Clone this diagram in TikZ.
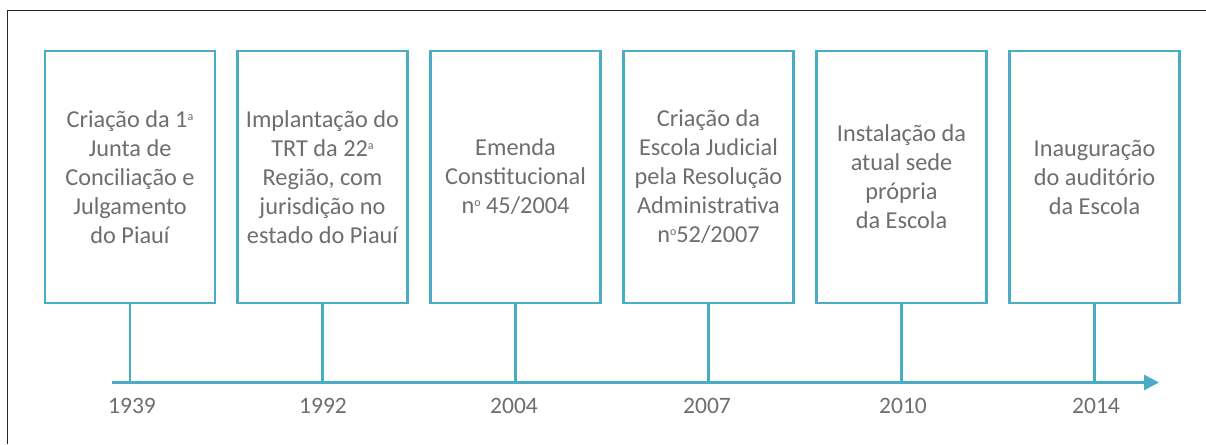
\documentclass[tikz,border=0pt]{standalone}
\usepackage{fontspec}
\setmainfont{Carlito}
\usetikzlibrary{arrows.meta}
\definecolor{tlblue}{HTML}{4BACC6}
\definecolor{tlgray}{HTML}{6E6E6E}
\newcommand\myord[1]{\raisebox{0.62ex}{\fontsize{12}{12}\selectfont #1}}
\begin{document}
\begin{tikzpicture}[x=1pt,y=-1pt,
  evbox/.style={draw=tlblue, line width=2.8pt, minimum width=170pt, minimum height=252pt,
    inner sep=0pt, align=center, text=tlgray,
    font=\fontsize{24.3}{29}\selectfont},
  stem/.style={draw=tlblue, line width=2.5pt},
  yearlbl/.style={text=tlgray, font=\fontsize{23.5}{29}\selectfont, inner sep=0pt}]
\useasboundingbox (0,0) rectangle (1206,444);
\fill[white] (0,0) rectangle (1206,444);
\draw[line width=1.6pt, black!85] (7.5,444) -- (7.5,10.5) -- (1206,10.5);

\node[evbox] (b1) at (130,177) {Criação da 1\myord{a}\\Junta de\\Conciliação e\\Julgamento\\do Piauí};
\node[evbox] (b2) at (322.5,177) {Implantação do\\TRT da 22\myord{a}\\Região, com\\jurisdição no\\estado do Piauí};
\node[evbox] (b3) at (515.5,177) {Emenda\\Constitucional\\n\myord{o} 45/2004};
\node[evbox] (b4) at (708.5,177) {Criação da\\Escola Judicial\\pela Resolução\\Administrativa\\n\myord{o}52/2007};
\node[evbox] (b5) at (901.5,177) {Instalação da\\atual sede\\própria\\da Escola};
\node[evbox] (b6) at (1094.5,177) {Inauguração\\do auditório\\da Escola};

\coordinate (ax0) at (112,382.5);
\coordinate (ax1) at (1159,382.5);
\draw[draw=tlblue, line width=2.8pt, -{Triangle[length=15pt,width=15pt]}] (ax0) -- (ax1);

\foreach \i in {1,...,6} {
  \coordinate (s\i) at (b\i.south |- ax0);
  \draw[stem] (b\i.south) -- (s\i);
}

\node[yearlbl] (y1) at (132,406) {1939};
\node[yearlbl] (y2) at (323,406) {1992};
\node[yearlbl] (y3) at (514,406) {2004};
\node[yearlbl] (y4) at (707,406) {2007};
\node[yearlbl] (y5) at (903,406) {2010};
\node[yearlbl] (y6) at (1096,406) {2014};
\end{tikzpicture}
\end{document}
